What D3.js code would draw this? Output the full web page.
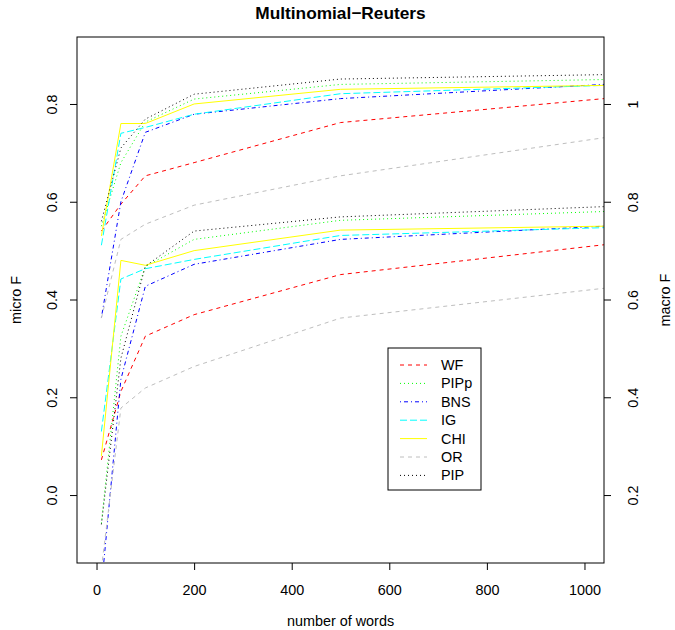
<!DOCTYPE html>
<html>
<head>
<meta charset="utf-8">
<script src="https://cdn.jsdelivr.net/npm/d3@7"></script>
<style>
  body { margin: 0; background: white; }
  text { font-family: "Liberation Sans", Arial, Helvetica, sans-serif; }
</style>
</head>
<body>
<div id="my_dataviz"></div>
<script>
// number of words (last point = where the lines meet the right frame)
var words = [10, 50, 100, 200, 500, 1040];

var methods = ["WF", "PIPp", "BNS", "IG", "CHI", "OR", "PIP"];
var colors = ["#ff0000", "#00ff00", "#0000ff", "#00ffff", "#ffff00", "#bebebe", "#000000"];
var dashes = ["4,4", "1,3", "1,3,4,3", "7,3", null, "4,4", "1,3"];

// micro F (left axis)
var microWF = [0.54, 0.595, 0.653, 0.68, 0.762, 0.811];
var microPIPp = [0.55, 0.68, 0.763, 0.81, 0.840, 0.85];
var microBNS = [0.363, 0.60, 0.742, 0.779, 0.811, 0.84];
var microIG = [0.511, 0.74, 0.752, 0.779, 0.821, 0.838];
var microCHI = [0.53, 0.76, 0.76, 0.80, 0.830, 0.838];
var microOR = [0.362, 0.523, 0.554, 0.593, 0.653, 0.731];
var microPIP = [0.56, 0.71, 0.769, 0.82, 0.851, 0.86];

// macro F (right axis)
var macroWF = [0.272, 0.412, 0.525, 0.569, 0.651, 0.712];
var macroPIPp = [0.142, 0.525, 0.667, 0.723, 0.762, 0.78];
var macroBNS = [0.01, 0.437, 0.627, 0.672, 0.723, 0.75];
var macroIG = [0.33, 0.642, 0.663, 0.682, 0.731, 0.747];
var macroCHI = [0.28, 0.68, 0.67, 0.70, 0.742, 0.75];
var macroOR = [0.05, 0.378, 0.419, 0.463, 0.562, 0.623];
var macroPIP = [0.14, 0.48, 0.668, 0.74, 0.769, 0.79];

var xTicks = [0, 200, 400, 600, 800, 1000];
var microTicks = [0, 0.2, 0.4, 0.6, 0.8];
var macroTicks = [0.2, 0.4, 0.6, 0.8, 1];

var microSeries = [microWF, microPIPp, microBNS, microIG, microCHI, microOR, microPIP];
var macroSeries = [macroWF, macroPIPp, macroBNS, macroIG, macroCHI, macroOR, macroPIP];

var W = 675, H = 630;
var plot = { left: 77, right: 604, top: 37, bottom: 563 };
var fs = "14.4px";

var svg = d3.select("#my_dataviz")
    .append("svg")
    .attr("width", W)
    .attr("height", H);

var x = d3.scaleLinear().domain([-40, 1040]).range([plot.left, plot.right]);
var yMicro = d3.scaleLinear().domain([-0.139, 0.937]).range([plot.bottom, plot.top]);
var yMacro = d3.scaleLinear().domain([0.061, 1.137]).range([plot.bottom, plot.top]);

svg.append("clipPath")
    .attr("id", "clip")
    .append("rect")
    .attr("x", plot.left)
    .attr("y", plot.top)
    .attr("width", plot.right - plot.left)
    .attr("height", plot.bottom - plot.top);

var lines = svg.append("g").attr("clip-path", "url(#clip)");

function drawGroup(series, y) {
    var line = d3.line()
        .x(function(d, i) { return x(words[i]); })
        .y(function(d) { return y(d); });
    series.forEach(function(vals, k) {
        lines.append("path")
            .attr("d", line(vals))
            .attr("fill", "none")
            .attr("stroke", colors[k])
            .attr("stroke-width", 1)
            .attr("stroke-dasharray", dashes[k]);
    });
}
drawGroup(microSeries, yMicro);
drawGroup(macroSeries, yMacro);

// frame
svg.append("rect")
    .attr("x", plot.left)
    .attr("y", plot.top)
    .attr("width", plot.right - plot.left)
    .attr("height", plot.bottom - plot.top)
    .attr("fill", "none")
    .attr("stroke", "#000")
    .attr("stroke-width", 1);

// bottom axis
var gx = svg.append("g")
    .attr("transform", "translate(0," + plot.bottom + ")")
    .call(d3.axisBottom(x).tickValues(xTicks).tickSize(7).tickPadding(15).tickFormat(d3.format("d")));
gx.select(".domain").remove();
gx.selectAll("text").style("font-size", fs).attr("fill", "#000");

// left axis
var gl = svg.append("g")
    .attr("transform", "translate(" + plot.left + ",0)")
    .call(d3.axisLeft(yMicro).tickValues(microTicks).tickSize(7).tickFormat(d3.format(".1f")));
gl.select(".domain").remove();
gl.selectAll("text")
    .attr("x", 0).attr("y", 0).attr("dy", 0)
    .attr("text-anchor", "middle")
    .attr("transform", "translate(-20,0) rotate(-90)")
    .style("font-size", fs).attr("fill", "#000");

// right axis
var gr = svg.append("g")
    .attr("transform", "translate(" + plot.right + ",0)")
    .call(d3.axisRight(yMacro).tickValues(macroTicks).tickSize(7).tickFormat(function(d) { return d === 1 ? "1" : d3.format(".1f")(d); }));
gr.select(".domain").remove();
gr.selectAll("text")
    .attr("x", 0).attr("y", 0).attr("dy", 0)
    .attr("text-anchor", "middle")
    .attr("transform", "translate(34,0) rotate(-90)")
    .style("font-size", fs).attr("fill", "#000");

// titles
svg.append("text")
    .attr("x", (plot.left + plot.right) / 2)
    .attr("y", 19)
    .attr("text-anchor", "middle")
    .style("font-size", "17.3px")
    .style("font-weight", "bold")
    .text("Multinomial\u2212Reuters");

svg.append("text")
    .attr("x", (plot.left + plot.right) / 2)
    .attr("y", 626)
    .attr("text-anchor", "middle")
    .style("font-size", fs)
    .text("number of words");

svg.append("text")
    .attr("transform", "translate(21," + (plot.top + plot.bottom) / 2 + ") rotate(-90)")
    .attr("text-anchor", "middle")
    .style("font-size", fs)
    .text("micro F");

svg.append("text")
    .attr("transform", "translate(670," + (plot.top + plot.bottom) / 2 + ") rotate(-90)")
    .attr("text-anchor", "middle")
    .style("font-size", fs)
    .text("macro F");

// legend
var legend = svg.append("g").attr("transform", "translate(388,348)");
legend.append("rect")
    .attr("width", 93)
    .attr("height", 142)
    .attr("fill", "white")
    .attr("stroke", "#000");

methods.forEach(function(m, k) {
    var ly = 17 + k * 18.4;
    legend.append("line")
        .attr("x1", 12).attr("x2", 39)
        .attr("y1", ly).attr("y2", ly)
        .attr("stroke", colors[k])
        .attr("stroke-dasharray", dashes[k]);
    legend.append("text")
        .attr("x", 53)
        .attr("y", ly + 5)
        .style("font-size", fs)
        .text(m);
});
</script>
</body>
</html>
